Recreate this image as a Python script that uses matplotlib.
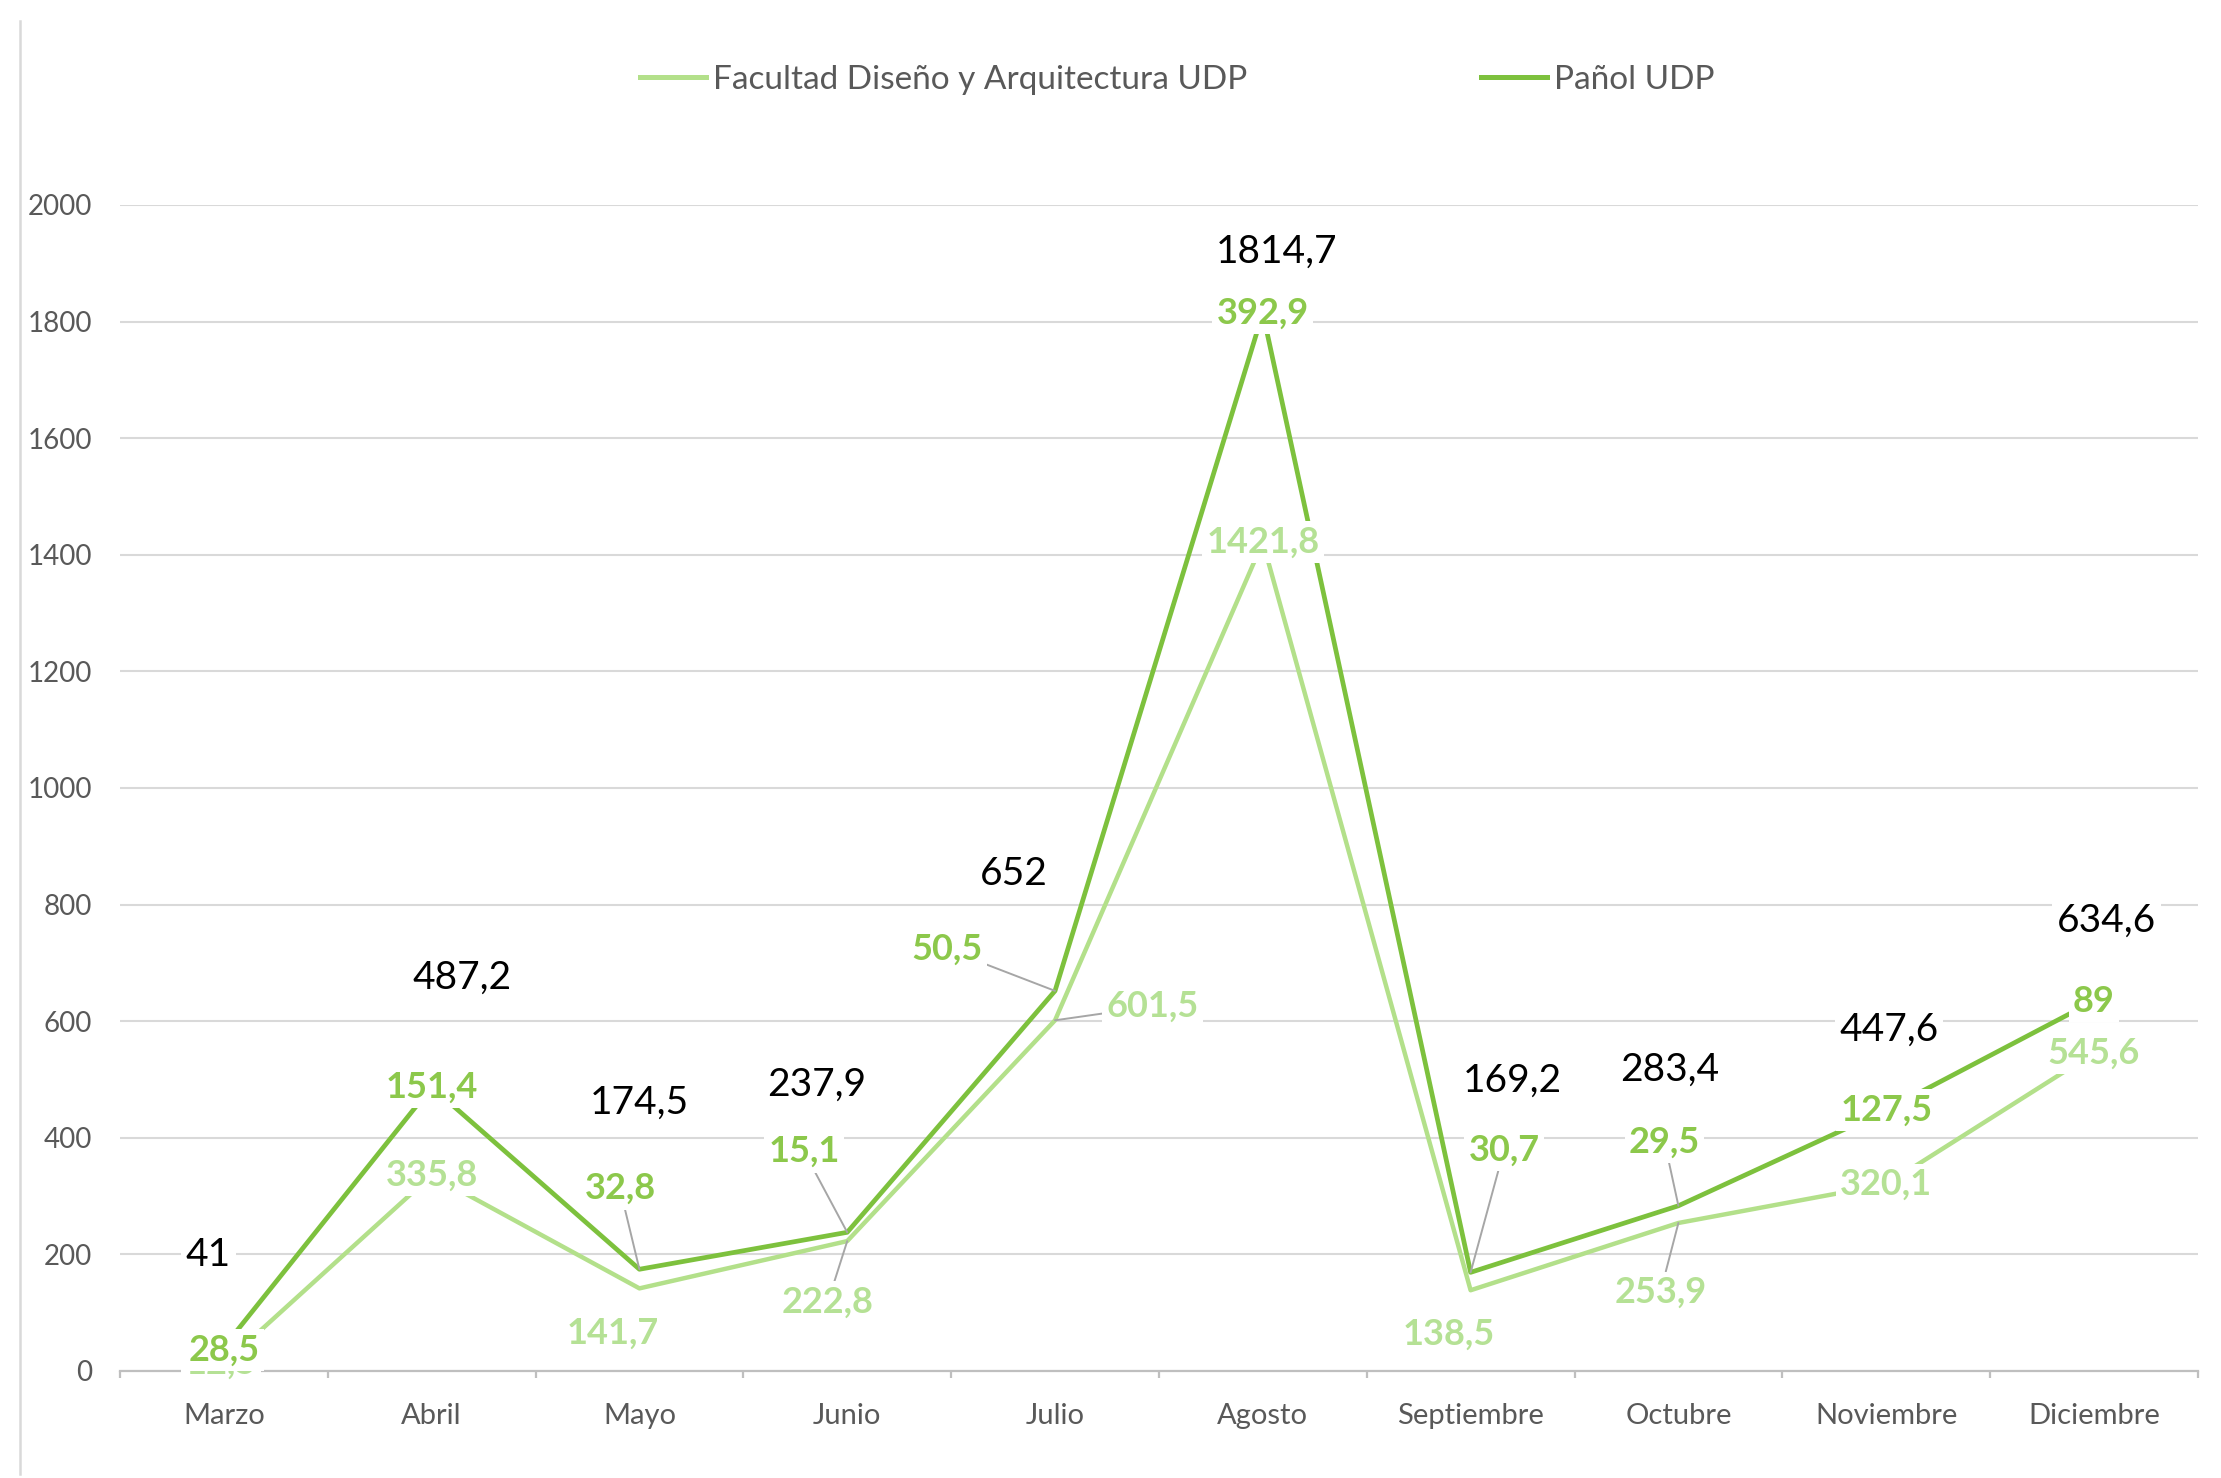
import matplotlib.pyplot as plt
from matplotlib.lines import Line2D

plt.rcParams['font.family'] = ['Lato', 'DejaVu Sans']

# ==================== Data ====================
meses = ["Marzo", "Abril", "Mayo", "Junio", "Julio", "Agosto",
         "Septiembre", "Octubre", "Noviembre", "Diciembre"]
facultad = [12.5, 335.8, 141.7, 222.8, 601.5, 1421.8, 138.5, 253.9, 320.1, 545.6]
panol = [28.5, 151.4, 32.8, 15.1, 50.5, 392.9, 30.7, 29.5, 127.5, 89]
total = [41, 487.2, 174.5, 237.9, 652, 1814.7, 169.2, 283.4, 447.6, 634.6]

# label offsets in points (dx, dy) and whether a leader line is drawn
off_total = [(-5.6, 33), (11, 39.5), (0, 60), (-11, 53), (-15, 42),
             (5, 22), (15, 69), (-3, 49), (1, 29), (4.5, 29)]
off_panol = [(0, -1), (0, 0), (-7, 29), (-15.5, 29), (-39, 15),
             (0, 0), (12, 44), (-5, 23), (0, 0), (0, 0)]
lead_panol = [False, False, True, True, True, False, True, True, False, False]
off_fac = [(-1, 0), (0, 0), (-9.5, -16), (-7, -22), (35, 5),
           (0, 0), (-8, -16), (-6.5, -25), (0, 0), (0, 0)]
lead_fac = [False, False, False, True, True, False, False, True, False, False]

c_fac = '#B3E08A'
c_pan = '#7DC13D'
c_fac_lbl = '#B5E195'
c_pan_lbl = '#8CC84B'

def fmt(v):
    s = f"{v:.1f}".rstrip('0').rstrip('.')
    return s.replace('.', ',')

# ==================== Plot ====================
fig = plt.figure(figsize=(11.105, 7.39), dpi=200)
ax = fig.add_axes([0.054, 0.0724, 0.9356, 0.7889])

x = list(range(len(meses)))
ax.plot(x, facultad, color=c_fac, linewidth=1.6, zorder=2,
        label='Facultad Diseño y Arquitectura UDP')
ax.plot(x, total, color=c_pan, linewidth=1.7, zorder=2.1, label='Pañol UDP')

ax.set_xlim(-0.5, len(meses) - 0.5)
ax.set_ylim(0, 2000)
ax.set_yticks(range(0, 2001, 200))
ax.set_xticks(x)
ax.set_xticklabels(meses)
ax.set_xticks([i - 0.5 for i in range(len(meses) + 1)], minor=True)

ax.grid(axis='y', color='#D9D9D9', linewidth=0.75, zorder=0)
for s in ['top', 'right', 'left']:
    ax.spines[s].set_visible(False)
ax.spines['bottom'].set_color('#BFBFBF')
ax.spines['bottom'].set_linewidth(0.8)
ax.tick_params(axis='y', length=0, pad=10, labelsize=10, labelcolor='#595959')
ax.tick_params(axis='x', which='major', length=0, pad=11.5, labelsize=10.5,
               labelcolor='#595959')
ax.tick_params(axis='x', which='minor', length=2.5, width=0.8, color='#BFBFBF')

box = dict(boxstyle='square,pad=0.12', fc='white', ec='none')
leader = dict(arrowstyle='-', color='#A6A6A6', lw=0.7, shrinkA=0, shrinkB=0)

for i in x:
    # facultad values
    ax.annotate(fmt(facultad[i]), xy=(i, facultad[i]), xytext=off_fac[i],
                textcoords='offset points', ha='center', va='center',
                fontsize=13, fontweight='bold', color=c_fac_lbl, bbox=box,
                arrowprops=leader if lead_fac[i] else None,
                zorder=4 if i == 0 else 5, annotation_clip=False)
    # pañol values
    ax.annotate(fmt(panol[i]), xy=(i, total[i]), xytext=off_panol[i],
                textcoords='offset points', ha='center', va='center',
                fontsize=13, fontweight='bold', color=c_pan_lbl, bbox=box,
                arrowprops=leader if lead_panol[i] else None,
                zorder=6, annotation_clip=False)
    # totals
    ax.annotate(fmt(total[i]), xy=(i, total[i]), xytext=off_total[i],
                textcoords='offset points', ha='center', va='center',
                fontsize=14, color='black', bbox=box, zorder=6,
                annotation_clip=False)

leg = fig.legend(loc='center', bbox_to_anchor=(0.53, 0.946), ncol=2,
                 frameon=False, fontsize=12, handlelength=2.0,
                 handletextpad=0.2, columnspacing=7.0)
for t in leg.get_texts():
    t.set_color('#595959')
for h in leg.get_lines():
    h.set_linewidth(1.8)

fig.add_artist(Line2D([0.009, 0.009], [0.003, 0.986], transform=fig.transFigure,
                      color='#D9D9D9', linewidth=0.9))

fig.savefig('out.png', dpi=200, facecolor='white')
